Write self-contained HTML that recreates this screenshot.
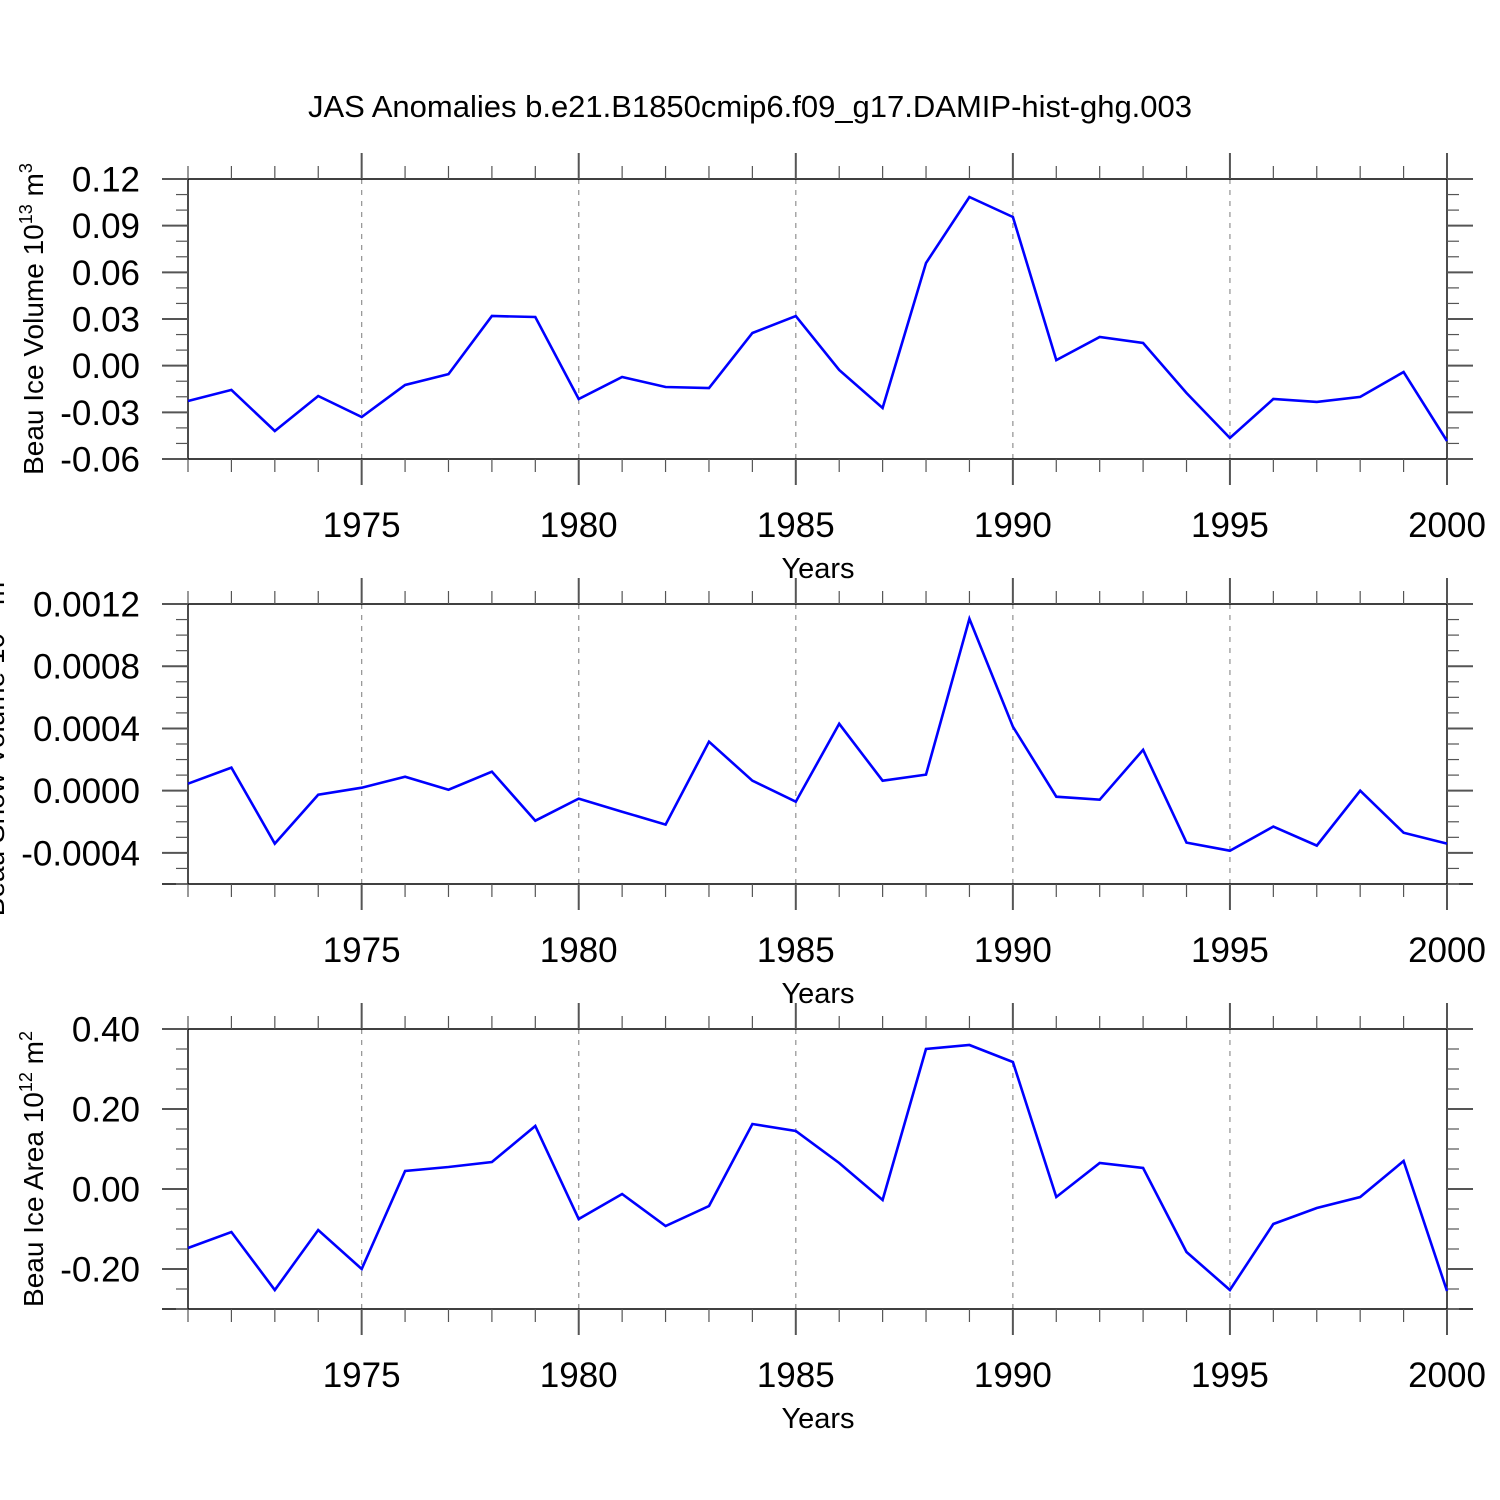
<!DOCTYPE html>
<html><head><meta charset="utf-8"><style>
html,body{margin:0;padding:0;background:#fff}
svg{display:block;font-family:"Liberation Sans",sans-serif}
</style></head><body>
<svg id="chart" width="1500" height="1500" viewBox="0 0 1500 1500">
<text x="750" y="117" font-size="31" text-anchor="middle">JAS Anomalies b.e21.B1850cmip6.f09_g17.DAMIP-hist-ghg.003</text>
</svg>
<script>
const years = [1971,1972,1973,1974,1975,1976,1977,1978,1979,1980,1981,1982,1983,1984,1985,1986,1987,1988,1989,1990,1991,1992,1993,1994,1995,1996,1997,1998,1999,2000];
const iceVolume = [-0.0227,-0.0156,-0.042,-0.0195,-0.033,-0.0124,-0.0054,0.0319,0.0313,-0.0214,-0.0073,-0.0137,-0.0144,0.021,0.0319,-0.0028,-0.0272,0.066,0.1084,0.0956,0.0036,0.0184,0.0146,-0.0176,-0.0465,-0.0214,-0.0233,-0.0201,-0.0041,-0.0484];
const snowVolume = [0.000045,0.000148,-0.00034,-0.000026,0.000019,0.00009,0.000006,0.000122,-0.000193,-0.000051,-0.000135,-0.000218,0.000315,0.000064,-0.000071,0.00043,0.000064,0.000103,0.001105,0.000411,-0.000039,-0.000058,0.000263,-0.000334,-0.000386,-0.000231,-0.000353,0,-0.00027,-0.00034];
const iceArea = [-0.1475,-0.1075,-0.2525,-0.1025,-0.2,0.045,0.055,0.0675,0.1575,-0.075,-0.0125,-0.0925,-0.0425,0.1625,0.145,0.065,-0.0275,0.35,0.36,0.3175,-0.02,0.065,0.0525,-0.1575,-0.2525,-0.0875,-0.0475,-0.02,0.07,-0.255];
const xTickLabels = ["1975","1980","1985","1990","1995","2000"];
const yTicks1 = ["0.12","0.09","0.06","0.03","0.00","-0.03","-0.06"];
const yTicks2 = ["0.0012","0.0008","0.0004","0.0000","-0.0004"];
const yTicks3 = ["0.40","0.20","0.00","-0.20"];

const NS="http://www.w3.org/2000/svg";
const svg=document.getElementById('chart');
function mk(tag,attrs,parent){const e=document.createElementNS(NS,tag);for(const k in attrs)e.setAttribute(k,attrs[k]);(parent||svg).appendChild(e);return e;}
const X0=188,X1=1447,YR0=1971,YR1=2000;
const xs=y=>X0+(y-YR0)/(YR1-YR0)*(X1-X0);

function panel(id,top,bottom,ymax,ymin,ticks,minorStep,data,title,titleY,titleClip){
  const g=mk('g',{});
  
  
  const ys=v=>top+(ymax-v)/(ymax-ymin)*(bottom-top);
  xTickLabels.forEach(t=>{const x=xs(+t);if(+t<YR1){const l=mk('line',{x1:x,x2:x,y1:top,y2:bottom,stroke:'#999','stroke-width':1.3,'stroke-dasharray':'5,6'},g);}});
  mk('line',{x1:162,x2:1473,y1:top,y2:top,stroke:'#000','stroke-width':1.4},g);
  mk('line',{x1:162,x2:1473,y1:bottom,y2:bottom,stroke:'#000','stroke-width':1.4},g);
  mk('line',{x1:X0,x2:X0,y1:top,y2:bottom,stroke:'#000','stroke-width':1.4},g);
  mk('line',{x1:X1,x2:X1,y1:top,y2:bottom,stroke:'#000','stroke-width':1.4},g);
  for(let yr=YR0;yr<=YR1;yr++){const x=xs(yr);const maj=yr%5===0;const L=maj?26:13;
    mk('line',{x1:x,x2:x,y1:top-L,y2:top,stroke:'#555','stroke-width':maj?2:1.2},g);
    mk('line',{x1:x,x2:x,y1:bottom,y2:bottom+L,stroke:'#555','stroke-width':maj?2:1.2},g);}
  xTickLabels.forEach(t=>{const tx=mk('text',{x:xs(+t),y:bottom+78,'font-size':35,'text-anchor':'middle'},g);tx.textContent=t;});
  const xt=mk('text',{x:818,y:bottom+119,'font-size':29,'text-anchor':'middle'},g);xt.textContent='Years';
  
  const n=Math.round((ymax-ymin)/minorStep);
  for(let i=0;i<=n;i++){const v=ymax-i*minorStep;const y=ys(v);
    const maj=ticks.some(t=>Math.abs(+t-v)<minorStep*0.01);const L=maj?26:12;
    mk('line',{x1:X0-L,x2:X0,y1:y,y2:y,stroke:'#555','stroke-width':maj?2:1.2},g);
    mk('line',{x1:X1,x2:X1+L,y1:y,y2:y,stroke:'#555','stroke-width':maj?2:1.2},g);}
  ticks.forEach(t=>{const tx=mk('text',{x:140,y:ys(+t)+12.5,'font-size':35,'text-anchor':'end'},g);tx.textContent=t;});
  const yt=mk('text',{x:0,y:0,'font-size':28,'text-anchor':'middle',transform:`translate(${titleClip},${titleY}) rotate(-90)`},g);
  
  yt.innerHTML=title;
  const pts=data.map((v,i)=>xs(years[i]).toFixed(1)+','+ys(v).toFixed(1)).join(' ');
  const pl=mk('polyline',{points:pts,fill:'none',stroke:'#0000ff','stroke-width':2.6,'stroke-linejoin':'miter'},g);
  
  
}
panel('ice-volume',179,459,0.12,-0.06,yTicks1,0.01,iceVolume,'Beau Ice Volume 10<tspan dy="-11" font-size="18">13</tspan><tspan dy="11"> m</tspan><tspan dy="-11" font-size="18">3</tspan>',319,43);
panel('snow-volume',604,884,0.0012,-0.0006,yTicks2,0.0001,snowVolume,'Beau Snow Volume 10<tspan dy="-11" font-size="18">13</tspan><tspan dy="11"> m</tspan><tspan dy="-11" font-size="18">3</tspan>',744,4);
panel('ice-area',1029,1309,0.40,-0.30,yTicks3,0.05,iceArea,'Beau Ice Area 10<tspan dy="-11" font-size="18">12</tspan><tspan dy="11"> m</tspan><tspan dy="-11" font-size="18">2</tspan>',1169,43);
</script>
</body></html>
